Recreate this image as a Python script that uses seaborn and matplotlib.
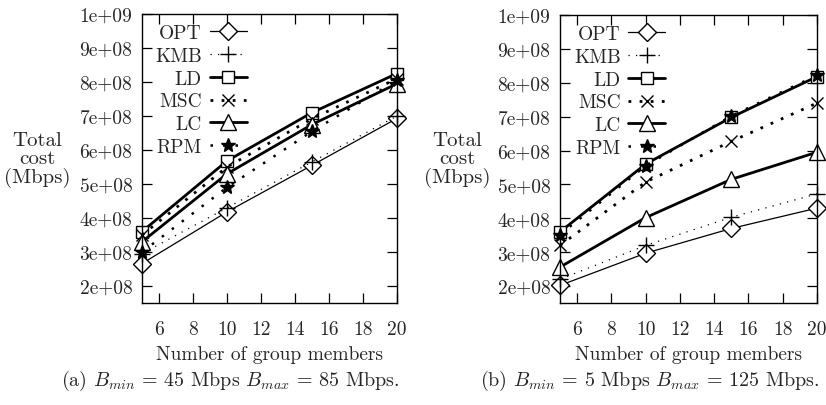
import matplotlib
matplotlib.use("Agg")
import matplotlib.pyplot as plt
import seaborn as sns
import pandas as pd

sns.set_theme(style="white")
plt.rcParams['font.family'] = ['cmr10', 'DejaVu Serif']
plt.rcParams['mathtext.fontset'] = 'cm'
plt.rcParams['axes.unicode_minus'] = False
plt.rcParams['axes.formatter.use_mathtext'] = True

members = [5, 10, 15, 20]
algos = ["OPT", "KMB", "LD", "MSC", "LC", "RPM"]

# Panel (a): Bmin = 45, Bmax = 85
a_opt = [2.66e8, 4.18e8, 5.55e8, 6.93e8]
a_kmb = [2.95e8, 4.30e8, 5.65e8, 7.00e8]
a_ld  = [3.60e8, 5.68e8, 7.10e8, 8.25e8]
a_msc = [3.50e8, 5.50e8, 6.92e8, 8.10e8]
a_lc  = [3.30e8, 5.30e8, 6.75e8, 7.95e8]
a_rpm = [3.00e8, 4.90e8, 6.55e8, 8.05e8]

# Panel (b): Bmin = 5, Bmax = 125
b_opt = [2.02e8, 2.97e8, 3.70e8, 4.30e8]
b_kmb = [2.20e8, 3.20e8, 4.03e8, 4.72e8]
b_ld  = [3.60e8, 5.60e8, 6.98e8, 8.18e8]
b_msc = [3.20e8, 5.07e8, 6.27e8, 7.40e8]
b_lc  = [2.56e8, 4.02e8, 5.15e8, 5.95e8]
b_rpm = [3.52e8, 5.55e8, 7.02e8, 8.22e8]

yticks = [2e8, 3e8, 4e8, 5e8, 6e8, 7e8, 8e8, 9e8, 1e9]
ytick_labels = ["2e+08", "3e+08", "4e+08", "5e+08", "6e+08", "7e+08", "8e+08", "9e+08", "1e+09"]
xticks = [6, 8, 10, 12, 14, 16, 18, 20]
captions = [r"(a) $B_{min}$ = 45 Mbps $B_{max}$ = 85 Mbps.",
            r"(b) $B_{min}$ = 5 Mbps $B_{max}$ = 125 Mbps."]

styles = {
    "OPT": dict(marker="D", lw=0.9, ls="-", ms=9, mfc="white"),
    "KMB": dict(marker="+", lw=0.9, ls=(0, (1, 5)), ms=12, mfc="black"),
    "LD":  dict(marker="s", lw=2.0, ls="-", ms=9, mfc="white"),
    "MSC": dict(marker="x", lw=2.0, ls=(0, (1, 3)), ms=9, mfc="black"),
    "LC":  dict(marker="^", lw=2.0, ls="-", ms=11, mfc="white"),
    "RPM": dict(marker="*", lw=1.8, ls=(0, (1, 4)), ms=10, mfc="black"),
}

def make_df(vals):
    rows = []
    for name, v in zip(algos, vals):
        for m, c in zip(members, v):
            rows.append(dict(members=m, cost=c, algo=name))
    return pd.DataFrame(rows)

dfa = make_df([a_opt, a_kmb, a_ld, a_msc, a_lc, a_rpm])
dfb = make_df([b_opt, b_kmb, b_ld, b_msc, b_lc, b_rpm])

fig = plt.figure(figsize=(8.26, 4.06), dpi=100)
ax1 = fig.add_axes([0.1719, 0.2512, 0.3087, 0.7118])
ax2 = fig.add_axes([0.678, 0.2512, 0.311, 0.7094])

fs = 14
for ax, df, cap, capx, ylx in [(ax1, dfa, captions[0], 230/826, 37/826),
                              (ax2, dfb, captions[1], 650/826, 457/826)]:
    for name in algos:
        st = styles[name]
        sub = df[df.algo == name]
        sns.lineplot(data=sub, x="members", y="cost", ax=ax, color="black",
                     marker=st["marker"], linewidth=st["lw"], linestyle=st["ls"],
                     markersize=st["ms"], markerfacecolor=st["mfc"],
                     markeredgecolor="black", markeredgewidth=1.0,
                     label=name, clip_on=False)
    ax.set_xlim(5, 20)
    ax.set_ylim(1.5e8, 1e9)
    ax.set_xticks(xticks)
    ax.set_xticklabels([str(t) for t in xticks], fontsize=fs)
    ax.set_yticks(yticks)
    ax.set_yticklabels(ytick_labels, fontsize=fs)
    ax.tick_params(axis="both", direction="in", length=7, width=0.9,
                   top=True, right=True, bottom=True, left=True, color="black")
    ax.tick_params(axis="x", pad=12)
    ax.tick_params(axis="y", pad=7)
    for s in ax.spines.values():
        s.set_color("black")
        s.set_linewidth(1.0)
    ax.set_xlabel("Number of group members", fontsize=fs, labelpad=5)
    ax.set_ylabel("")
    fig.text(ylx, 1 - 160/406, "Total\ncost\n(Mbps)", fontsize=15,
             ha="center", va="center", linespacing=1.0)
    fig.text(capx, 1 - 381/406, cap, fontsize=14.4, ha="center", va="center")
    leg = ax.legend(loc="upper right", bbox_to_anchor=(0.41, 0.965), frameon=False,
                    markerfirst=False, fontsize=fs, handlelength=1.9,
                    labelspacing=0.25, handletextpad=0.4, borderaxespad=0.0,
                    borderpad=0.0)

fig.savefig("out.png", dpi=100)
